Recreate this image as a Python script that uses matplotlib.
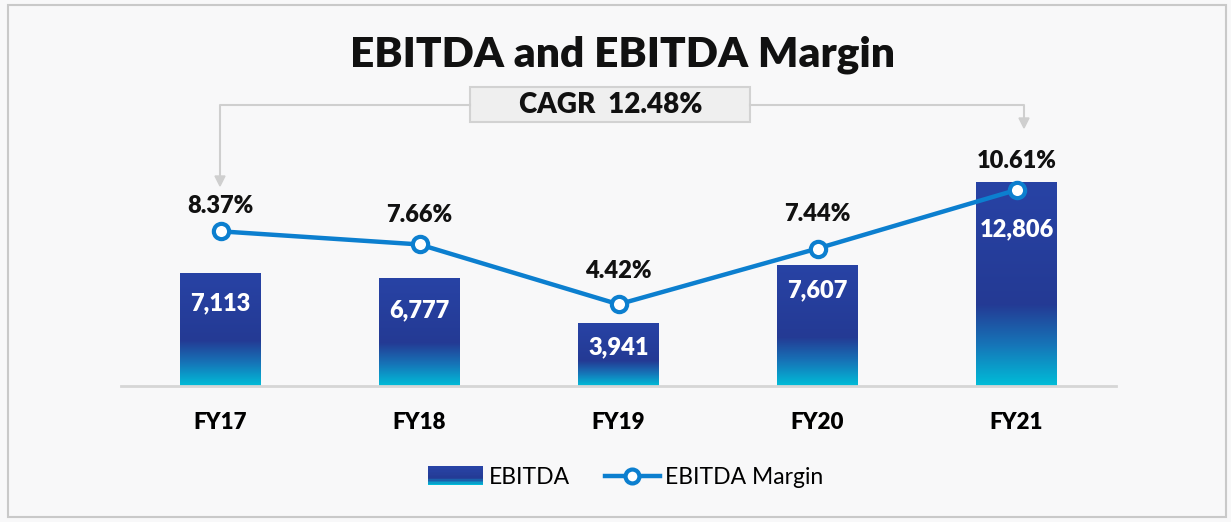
import matplotlib.pyplot as plt
import numpy as np
from matplotlib.colors import LinearSegmentedColormap
from matplotlib.patches import Rectangle
from matplotlib.legend_handler import HandlerBase
from matplotlib.lines import Line2D

plt.rcParams['font.family'] = ['Lato', 'DejaVu Sans']

# data
years = ['FY17', 'FY18', 'FY19', 'FY20', 'FY21']
ebitda = [7113, 6777, 3941, 7607, 12806]
margin = [8.37, 7.66, 4.42, 7.44, 10.61]
# label nudges (points) - manually placed in the original
bar_lab_off = [-22, -23, -17, -18, -34]
pct_lab_off = [18, 21, 24, 25, 21]

LINE_C = '#0c7fcf'
grad = LinearSegmentedColormap.from_list(
    'ebitda', [(0, '#00bdd8'), (0.2, '#1675b8'), (0.4, '#243a94'), (1, '#2843a5')])

fig = plt.figure(figsize=(12.31, 5.22), dpi=100, facecolor='#f8f8f9')

# outer frame
fig.patches.append(Rectangle((8/1231, 5/522), 1218/1231, 512/522, transform=fig.transFigure,
                             fill=False, edgecolor='#c9c9c9', lw=1.5))

ax = fig.add_axes([121/1231, 136/522, 995/1231, 286/522])
ax.set_facecolor('none')
x = np.arange(len(years))

bars = ax.bar(x, ebitda, width=0.405, color='none', zorder=2)
gimg = np.linspace(0, 1, 256).reshape(-1, 1)
for b, v in zip(bars, ebitda):
    im = ax.imshow(gimg, cmap=grad, origin='lower', aspect='auto',
                   extent=(b.get_x(), b.get_x() + b.get_width(), 0, v), zorder=2)
    im.set_clip_path(b)
ax.set_xlim(-0.5, 4.5)
ax.set_ylim(0, 286/0.01593)

for xi, v, off in zip(x, ebitda, bar_lab_off):
    ax.annotate(f'{v:,}', (xi, v), xytext=(0, off), textcoords='offset points',
                ha='center', va='center', color='white', fontsize=17, fontweight='heavy', zorder=5)

for s in ['top', 'right', 'left']:
    ax.spines[s].set_visible(False)
ax.spines['bottom'].set_color('#d6d6d6')
ax.spines['bottom'].set_linewidth(2)
ax.set_yticks([])
ax.set_xticks(x)
ax.set_xticklabels(years, fontsize=16, fontweight='heavy')
ax.tick_params(axis='x', length=0, pad=19)

ax2 = ax.twinx()
ax2.set_ylim(0, 286/18.48)
ax2.plot(x, margin, color=LINE_C, lw=3.2, marker='o', ms=11, mfc='white',
         mec=LINE_C, mew=3, zorder=4)
for xi, m, off in zip(x, margin, pct_lab_off):
    ax2.annotate(f'{m:.2f}%', (xi, m), xytext=(0, off), textcoords='offset points',
                 ha='center', va='center', fontsize=17, fontweight='heavy', color='#111111')
ax2.set_yticks([])
for s in ax2.spines.values():
    s.set_visible(False)

# title and CAGR callout
fig.text(622/1231, 1 - 55/522, 'EBITDA and EBITDA Margin', ha='center', va='center',
         fontsize=30.5, fontweight='heavy', color='#111111')
fig.patches.append(Rectangle((470/1231, 1 - 122/522), 280/1231, 35/522, transform=fig.transFigure,
                             facecolor='#efefef', edgecolor='#d2d2d2', lw=1.5))
fig.text(611/1231, 1 - 105/522, 'CAGR  12.48%', ha='center', va='center',
         fontsize=20, fontweight='heavy', color='#111111')
lc = '#cfcfcf'
fig.add_artist(Line2D([470/1231, 220/1231, 220/1231], [1 - 105/522, 1 - 105/522, 1 - 178/522],
                      transform=fig.transFigure, color=lc, lw=1.5))
fig.add_artist(Line2D([750/1231, 1024/1231, 1024/1231], [1 - 105/522, 1 - 105/522, 1 - 120/522],
                      transform=fig.transFigure, color=lc, lw=1.5))
for ax_x, tip in [(220, 186), (1024, 128)]:
    fig.add_artist(plt.Polygon([[(ax_x - 5)/1231, 1 - (tip - 10)/522], [(ax_x + 5)/1231, 1 - (tip - 10)/522],
                                [ax_x/1231, 1 - tip/522]], closed=True, transform=fig.transFigure,
                               color=lc))


class GradHandler(HandlerBase):
    def create_artists(self, legend, orig, xd, yd, w, h, fontsize, trans):
        out = []
        n = 12
        for i in range(n):
            r = Rectangle((xd, yd + h*i/n - 1), w, h/n + 1, transform=trans,
                          facecolor=grad(i/(n - 1)), edgecolor='none')
            out.append(r)
        return out


bar_h = Rectangle((0, 0), 1, 1)
line_h = Line2D([], [], color=LINE_C, lw=3.2, marker='o', ms=10, mfc='white', mec=LINE_C, mew=3)
fig.legend([bar_h, line_h], ['EBITDA', 'EBITDA Margin'], handler_map={bar_h: GradHandler()},
           loc='center', bbox_to_anchor=(626/1231, 1 - 478/522), ncol=2, frameon=False,
           fontsize=16.5, handlelength=2.4, handleheight=0.8, columnspacing=1.5, handletextpad=0.25)

fig.savefig('out.png', dpi=100, facecolor=fig.get_facecolor())
